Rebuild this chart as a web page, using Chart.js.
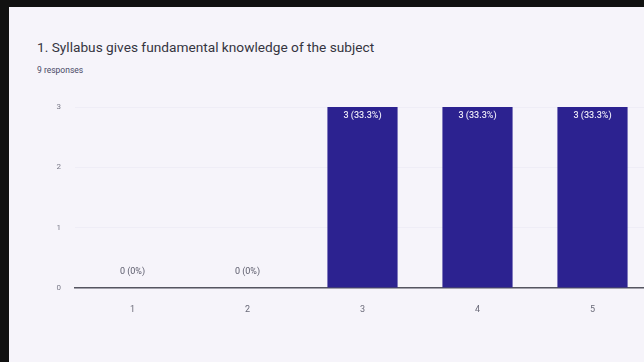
<!DOCTYPE html>
<html>
<head>
<meta charset="utf-8">
<script src="https://cdn.jsdelivr.net/npm/chart.js@4"></script>
<style>
  html, body { margin: 0; padding: 0; width: 644px; height: 362px; overflow: hidden; background: #111; }
  #card { position: absolute; left: 9px; top: 7px; width: 700px; height: 360px; background: #f6f4fa; overflow: hidden; }
  #title { position: absolute; left: 28px; top: 32px; font: 13.7px Roboto, sans-serif; color: #35343f; white-space: nowrap; }
  #sub { position: absolute; left: 28px; top: 58px; font: 8.5px Roboto, sans-serif; color: #4a4a66; }
  #wrap { position: absolute; left: -9px; top: -7px; width: 690px; height: 362px; }
</style>
</head>
<body>
<div id="card">
  <div id="title">1. Syllabus gives fundamental knowledge of the subject</div>
  <div id="sub">9 responses</div>
  <div id="wrap"><canvas id="chart"></canvas></div>
</div>
<script>
// data
const categories = ['1', '2', '3', '4', '5'];
const counts = [0, 0, 3, 3, 3];
const percents = ['0%', '0%', '33.3%', '33.3%', '33.3%'];
const yTicks = [0, 1, 2, 3];

const barColor = '#2c2290';

// value labels: white inside bar top, gray above axis for zeros
const valueLabels = {
    id: 'valueLabels',
    afterDatasetsDraw(chart) {
        const ctx = chart.ctx;
        const meta = chart.getDatasetMeta(0);
        ctx.save();
        ctx.textAlign = 'center';
        meta.data.forEach((bar, i) => {
            const txt = counts[i] + ' (' + percents[i] + ')';
            if (counts[i] > 0) {
                ctx.font = '500 9px Roboto, sans-serif';
                ctx.fillStyle = '#e8e6f5';
                ctx.textBaseline = 'top';
                ctx.fillText(txt, bar.x, bar.y + 4);
            } else {
                ctx.font = '9px Roboto, sans-serif';
                ctx.fillStyle = '#5a5a6a';
                ctx.textBaseline = 'bottom';
                ctx.fillText(txt, bar.x, bar.y - 12);
            }
        });
        ctx.restore();
    }
};

new Chart(document.getElementById('chart'), {
    type: 'bar',
    data: {
        labels: categories,
        datasets: [{
            data: counts,
            backgroundColor: barColor,
            categoryPercentage: 1,
            barPercentage: 0.61,
        }],
    },
    options: {
        responsive: true,
        maintainAspectRatio: false,
        animation: false,
        layout: { padding: { top: 107, right: 40, left: 0, bottom: 0 } },
        scales: {
            x: {
                grid: { display: false },
                border: { color: '#555560', width: 1.5 },
                ticks: { color: '#6a6a78', font: { family: 'Roboto', size: 9 }, padding: 8 },
                afterFit(axis) { axis.height = 74; },
            },
            y: {
                min: 0,
                max: 3,
                afterBuildTicks(axis) { axis.ticks = yTicks.map(v => ({ value: v })); },
                grid: { color: 'rgba(120,110,170,0.05)', drawTicks: false },
                border: { display: false },
                ticks: { color: '#7a7a88', font: { family: 'Roboto', size: 8 }, padding: 14 },
                afterFit(axis) { axis.width = 75; },
            },
        },
        plugins: {
            legend: { display: false },
            tooltip: { enabled: false },
        },
    },
    plugins: [valueLabels],
});
</script>
</body>
</html>
